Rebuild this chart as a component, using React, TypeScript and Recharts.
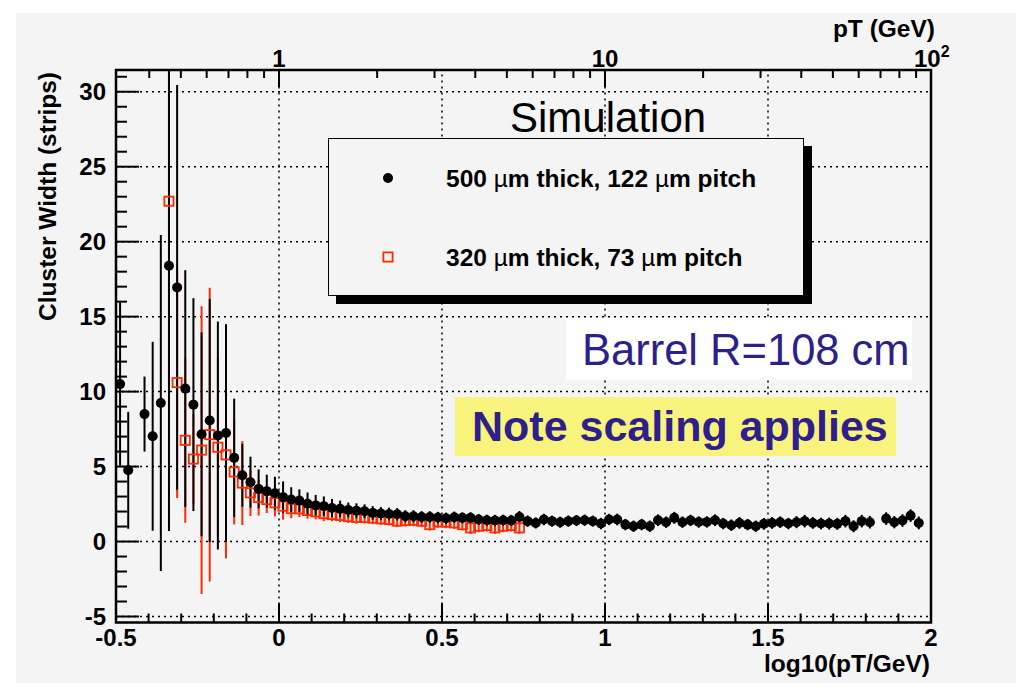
import React from 'react';
import {
  ScatterChart,
  Scatter,
  ErrorBar,
  XAxis,
  YAxis,
  ReferenceLine,
  ReferenceArea,
  Legend
} from 'recharts';

const FONT = '"Liberation Sans", Arial, Helvetica, sans-serif';
const INK = '#000000';
const RED = '#ff2a00';
const NOTE = '#2e1f8c';

// log10(pT/GeV) bin centres (bin width 0.025)
const binCenters = [
  -0.4875, -0.4625, -0.4375, -0.4125, -0.3875, -0.3625, -0.3375, -0.3125, -0.2875, -0.2625,
  -0.2375, -0.2125, -0.1875, -0.1625, -0.1375, -0.1125, -0.0875, -0.0625, -0.0375, -0.0125,
  0.0125, 0.0375, 0.0625, 0.0875, 0.1125, 0.1375, 0.1625, 0.1875, 0.2125, 0.2375,
  0.2625, 0.2875, 0.3125, 0.3375, 0.3625, 0.3875, 0.4125, 0.4375, 0.4625, 0.4875,
  0.5125, 0.5375, 0.5625, 0.5875, 0.6125, 0.6375, 0.6625, 0.6875, 0.7125, 0.7375,
  0.7625, 0.7875, 0.8125, 0.8375, 0.8625, 0.8875, 0.9125, 0.9375, 0.9625, 0.9875,
  1.0125, 1.0375, 1.0625, 1.0875, 1.1125, 1.1375, 1.1625, 1.1875, 1.2125, 1.2375,
  1.2625, 1.2875, 1.3125, 1.3375, 1.3625, 1.3875, 1.4125, 1.4375, 1.4625, 1.4875,
  1.5125, 1.5375, 1.5625, 1.5875, 1.6125, 1.6375, 1.6625, 1.6875, 1.7125, 1.7375,
  1.7625, 1.7875, 1.8125, 1.8375, 1.8625, 1.8875, 1.9125, 1.9375, 1.9625, 1.9875
];

// 500 um thick, 122 um pitch (black dots)
const thickWidth = [
  10.5, 4.75, null, 8.5, 7.02, 9.24, 18.4, 16.95, 10.2, 9.13,
  7.15, 8.07, 7.07, 7.24, 5.58, 4.42, 3.96, 3.51, 3.36, 3.22,
  2.96, 2.8, 2.73, 2.52, 2.41, 2.36, 2.24, 2.18, 2.1, 2.05,
  2.02, 1.91, 1.87, 1.84, 1.82, 1.69, 1.69, 1.64, 1.64, 1.6,
  1.55, 1.62, 1.58, 1.58, 1.47, 1.42, 1.4, 1.42, 1.4, 1.64,
  1.36, 1.24, 1.47, 1.36, 1.29, 1.36, 1.4, 1.42, 1.36, 1.2,
  1.47, 1.47, 1.13, 1.02, 1.13, 1.02, 1.42, 1.29, 1.58, 1.29,
  1.41, 1.3, 1.31, 1.42, 1.2, 1.09, 1.24, 1.13, 1.02, 1.18,
  1.24, 1.29, 1.2, 1.29, 1.36, 1.24, 1.2, 1.2, 1.18, 1.36,
  1.02, 1.36, 1.29, null, 1.53, 1.29, 1.4, 1.73, 1.24, null
];
const thickErr = [
  5.45, 3.9, null, 2.5, 6.3, 11.2, 17.7, 13.5, 7.9, 7.1,
  6.8, 8.1, 7.6, 7.26, 3.95, 2.1, 1.7, 1.3, 1.1, 1.1,
  1.05, 0.82, 0.75, 0.75, 0.7, 0.65, 0.6, 0.55, 0.5, 0.5,
  0.46, 0.45, 0.43, 0.42, 0.41, 0.4, 0.4, 0.39, 0.39, 0.38,
  0.38, 0.38, 0.37, 0.38, 0.37, 0.37, 0.38, 0.37, 0.38, 0.4,
  0.38, 0.37, 0.38, 0.37, 0.37, 0.38, 0.37, 0.38, 0.37, 0.38,
  0.38, 0.39, 0.38, 0.38, 0.38, 0.38, 0.39, 0.38, 0.4, 0.38,
  0.38, 0.38, 0.38, 0.39, 0.38, 0.38, 0.39, 0.38, 0.38, 0.39,
  0.39, 0.39, 0.38, 0.4, 0.42, 0.39, 0.39, 0.4, 0.4, 0.42,
  0.4, 0.42, 0.42, null, 0.42, 0.41, 0.42, 0.42, 0.43, null
];

// 320 um thick, 73 um pitch (red open squares), first 50 bins
const thinWidth = [
  null, null, null, null, null, null, 22.7, 10.6, 6.75, 5.5,
  6.1, 7.13, 6.29, 5.78, 4.64, 3.9, 3.25, 2.93, 2.8, 2.58,
  2.36, 2.2, 2.18, 2.07, 1.98, 1.86, 1.8, 1.74, 1.66, 1.61,
  1.6, 1.56, 1.51, 1.47, 1.36, 1.4, 1.42, 1.36, 1.13, 1.31,
  1.29, 1.24, 1.13, 0.91, 1.02, 1.07, 0.91, 1.02, 1.07, 0.91
];
const thinErr = [
  null, null, null, null, null, null, 12, 7.7, 5.5, 3,
  9.6, 9.8, 6, 6.9, 3.5, 2.8, 1.55, 1.2, 0.9, 0.9,
  0.9, 0.65, 0.55, 0.55, 0.5, 0.5, 0.45, 0.45, 0.42, 0.42,
  0.4, 0.4, 0.4, 0.4, 0.4, 0.4, 0.4, 0.4, 0.4, 0.4,
  0.4, 0.4, 0.4, 0.4, 0.4, 0.4, 0.4, 0.4, 0.4, 0.4
];

const seriesNames = ['500 µm thick, 122 µm pitch', '320 µm thick, 73 µm pitch'];

// axis ticks
const logTicks = [
  -0.5, -0.4, -0.3, -0.2, -0.1, 0, 0.1, 0.2, 0.3, 0.4, 0.5, 0.6, 0.7, 0.8, 0.9,
  1, 1.1, 1.2, 1.3, 1.4, 1.5, 1.6, 1.7, 1.8, 1.9, 2
];
const widthTicks = [
  -5, -4, -3, -2, -1, 0, 1, 2, 3, 4, 5, 6, 7, 8, 9, 10, 11, 12, 13, 14, 15, 16, 17, 18,
  19, 20, 21, 22, 23, 24, 25, 26, 27, 28, 29, 30, 31
];
const ptTicks = [0.4, 0.5, 0.6, 0.7, 0.8, 0.9, 1, 2, 3, 4, 5, 6, 7, 8, 9, 10, 20, 30, 40, 50, 60, 70, 80, 90, 100];
const gridX = [0, 0.5, 1, 1.5];
const gridY = [-5, 0, 5, 10, 15, 20, 25, 30];

const X_DOMAIN: [number, number] = [-0.5, 2];
const Y_DOMAIN: [number, number] = [-5.4, 31.45];

// error bars are cut at the frame, as in the original plot
const toPoints = (vals: (number | null)[], errs: (number | null)[]) =>
  vals
    .map((y, i) => ({ x: binCenters[i], y, e: errs[i] }))
    .filter((p) => p.y !== null)
    .map((p) => ({
      x: p.x,
      y: p.y as number,
      err: [
        Math.min(p.e as number, (p.y as number) - Y_DOMAIN[0]),
        Math.min(p.e as number, Y_DOMAIN[1] - (p.y as number))
      ]
    }));

const thickData = toPoints(thickWidth, thickErr);
const thinData = toPoints(thinWidth, thinErr);

const textProps = { fontFamily: FONT, fontWeight: 'bold' as const, fill: INK };

const LeftTick = (props: any) => {
  const { x, y, payload } = props;
  const v = payload.value;
  const major = v % 5 === 0;
  return (
    <g>
      <line x1={x} y1={y} x2={x + (major ? 23 : 11)} y2={y} stroke={INK} strokeWidth={2} />
      {major && (
        <text x={x - 10} y={y} dy="0.34em" textAnchor="end" fontSize={24} {...textProps}>
          {v}
        </text>
      )}
    </g>
  );
};

const BottomTick = (props: any) => {
  const { x, y, payload } = props;
  const v = payload.value;
  const major = Math.abs(v * 2 - Math.round(v * 2)) < 1e-6;
  return (
    <g>
      <line x1={x} y1={y} x2={x} y2={y - (major ? 19 : 9)} stroke={INK} strokeWidth={2} />
      {major && (
        <text x={x} y={y + 23} textAnchor="middle" fontSize={24} {...textProps}>
          {String(Math.round(v * 10) / 10)}
        </text>
      )}
    </g>
  );
};

const TopTick = (props: any) => {
  const { x, y, payload } = props;
  const v = payload.value;
  const major = Math.abs(v - Math.round(v)) < 1e-6;
  let label: React.ReactNode = null;
  if (major) {
    const p = Math.round(v);
    if (p < 2) {
      label = (
        <text x={x} y={y - 3} textAnchor="middle" fontSize={24} {...textProps}>
          {p === 0 ? '1' : '10'}
        </text>
      );
    } else {
      label = (
        <text x={x - 17} y={y - 3} textAnchor="start" fontSize={24} {...textProps}>
          10
          <tspan dy={-10} fontSize={16}>{p}</tspan>
        </text>
      );
    }
  }
  return (
    <g>
      <line x1={x} y1={y} x2={x} y2={y + (major ? 17 : 8)} stroke={INK} strokeWidth={2} />
      {label}
    </g>
  );
};

const Dot = (props: any) => {
  const { cx, cy } = props;
  if (cx == null || cy == null) return <g />;
  return <circle cx={cx} cy={cy} r={5} fill={INK} />;
};

const OpenSquare = (props: any) => {
  const { cx, cy } = props;
  if (cx == null || cy == null) return <g />;
  return <rect x={cx - 4.6} y={cy - 4.6} width={9.2} height={9.2} fill="none" stroke={RED} strokeWidth={1.8} />;
};

const Nothing = () => <g />;

const LegendBox = (props: any) => {
  const items = props.payload || [];
  const order = seriesNames.map((n) => items.find((it: any) => it.value === n)).filter(Boolean);
  return (
    <div
      style={{
        width: 476,
        height: 158,
        boxSizing: 'border-box',
        border: '1.5px solid #000',
        boxShadow: '8px 8px 0 #000',
        background: '#f4f4f4'
      }}
    >
      <svg width={473} height={155} style={{ display: 'block' }}>
        {order.map((it: any, k: number) => {
          const cy = k === 0 ? 39 : 118;
          return (
            <g key={it.value}>
              {k === 0 ? (
                <circle cx={59} cy={cy} r={5} fill={INK} />
              ) : (
                <rect x={54.4} y={cy - 4.6} width={9.2} height={9.2} fill="none" stroke={RED} strokeWidth={1.8} />
              )}
              <text x={117} y={cy + 8.5} fontSize={24.5} {...textProps}>
                {it.value.split('µ').map((part: string, j: number) => (
                  <React.Fragment key={j}>
                    {j > 0 && <tspan fontWeight="normal">µ</tspan>}
                    <tspan>{part}</tspan>
                  </React.Fragment>
                ))}
              </text>
            </g>
          );
        })}
      </svg>
    </div>
  );
};

export default function App() {
  return (
    <div
      style={{
        position: 'absolute',
        left: 16,
        top: 13,
        width: 1000,
        height: 670,
        background: '#f4f4f4'
      }}
    >
      <ScatterChart width={1000} height={670} margin={{ top: 27, right: 85, bottom: 30.5, left: 40 }}>
        {gridY.map((v) => (
          <ReferenceLine key={`gy${v}`} y={v} stroke={INK} strokeWidth={1.5} strokeDasharray="2 4" />
        ))}
        {gridX.map((v) => (
          <ReferenceLine key={`gx${v}`} x={v} stroke={INK} strokeWidth={1.5} strokeDasharray="2 4" />
        ))}
        <XAxis
          dataKey="x"
          type="number"
          domain={X_DOMAIN}
          allowDataOverflow
          ticks={logTicks}
          interval={0}
          height={30}
          tickSize={0}
          tickMargin={0}
          tickLine={false}
          axisLine={false}
          tick={BottomTick}
        />
        <XAxis
          xAxisId="top"
          dataKey="x"
          orientation="top"
          type="number"
          domain={X_DOMAIN}
          allowDataOverflow
          ticks={ptTicks.map((p) => Math.log10(p))}
          interval={0}
          height={30}
          tickSize={0}
          tickMargin={0}
          tickLine={false}
          axisLine={false}
          tick={TopTick}
        />
        <YAxis
          dataKey="y"
          type="number"
          domain={Y_DOMAIN}
          allowDataOverflow
          ticks={widthTicks}
          interval={0}
          width={60}
          tickSize={0}
          tickMargin={0}
          tickLine={false}
          axisLine={false}
          tick={LeftTick}
        />
        <Legend
          layout="vertical"
          align="center"
          verticalAlign="middle"
          wrapperStyle={{ left: 312, top: 125, width: 476, height: 158 }}
          content={LegendBox}
        />
        {/* pT scale on top shares the same points */}
        <Scatter
          xAxisId="top"
          data={thickData}
          shape={Nothing}
          legendType="none"
          isAnimationActive={false}
        />
        <Scatter name={seriesNames[1]} data={thinData} fill={RED} shape={OpenSquare} isAnimationActive={false}>
          <ErrorBar dataKey="err" direction="y" width={0} stroke={RED} strokeWidth={2} />
        </Scatter>
        <Scatter name={seriesNames[0]} data={thickData} fill={INK} shape={Dot} isAnimationActive={false}>
          <ErrorBar dataKey="err" direction="y" width={0} stroke={INK} strokeWidth={2} />
        </Scatter>
        <ReferenceArea
          x1={X_DOMAIN[0]}
          x2={X_DOMAIN[1]}
          y1={Y_DOMAIN[0]}
          y2={Y_DOMAIN[1]}
          fill="none"
          fillOpacity={0}
          stroke={INK}
          strokeWidth={2.5}
        />
      </ScatterChart>
      <svg
        width={1000}
        height={670}
        style={{ position: 'absolute', left: 0, top: 0, pointerEvents: 'none' }}
      >
        <text x={919} y={24} textAnchor="end" fontSize={24.5} {...textProps}>
          pT (GeV)
        </text>
        <text x={914} y={659} textAnchor="end" fontSize={24.5} {...textProps}>
          log10(pT/GeV)
        </text>
        <text transform="translate(40,59) rotate(-90)" textAnchor="end" fontSize={24.5} {...textProps}>
          Cluster Width (strips)
        </text>
        <text x={494} y={119} fontFamily={FONT} fontSize={42} fill={INK}>
          Simulation
        </text>
        <rect x={550} y={305} width={346} height={62} fill="#ffffff" />
        <text x={566} y={352} fontFamily={FONT} fontSize={43.5} fill={NOTE}>
          Barrel R=108 cm
        </text>
        <rect x={439} y={384} width={441} height={59} fill="#f7f37c" />
        <text x={456} y={428} fontFamily={FONT} fontSize={43} fontWeight="bold" fill={NOTE}>
          Note scaling applies
        </text>
      </svg>
    </div>
  );
}
